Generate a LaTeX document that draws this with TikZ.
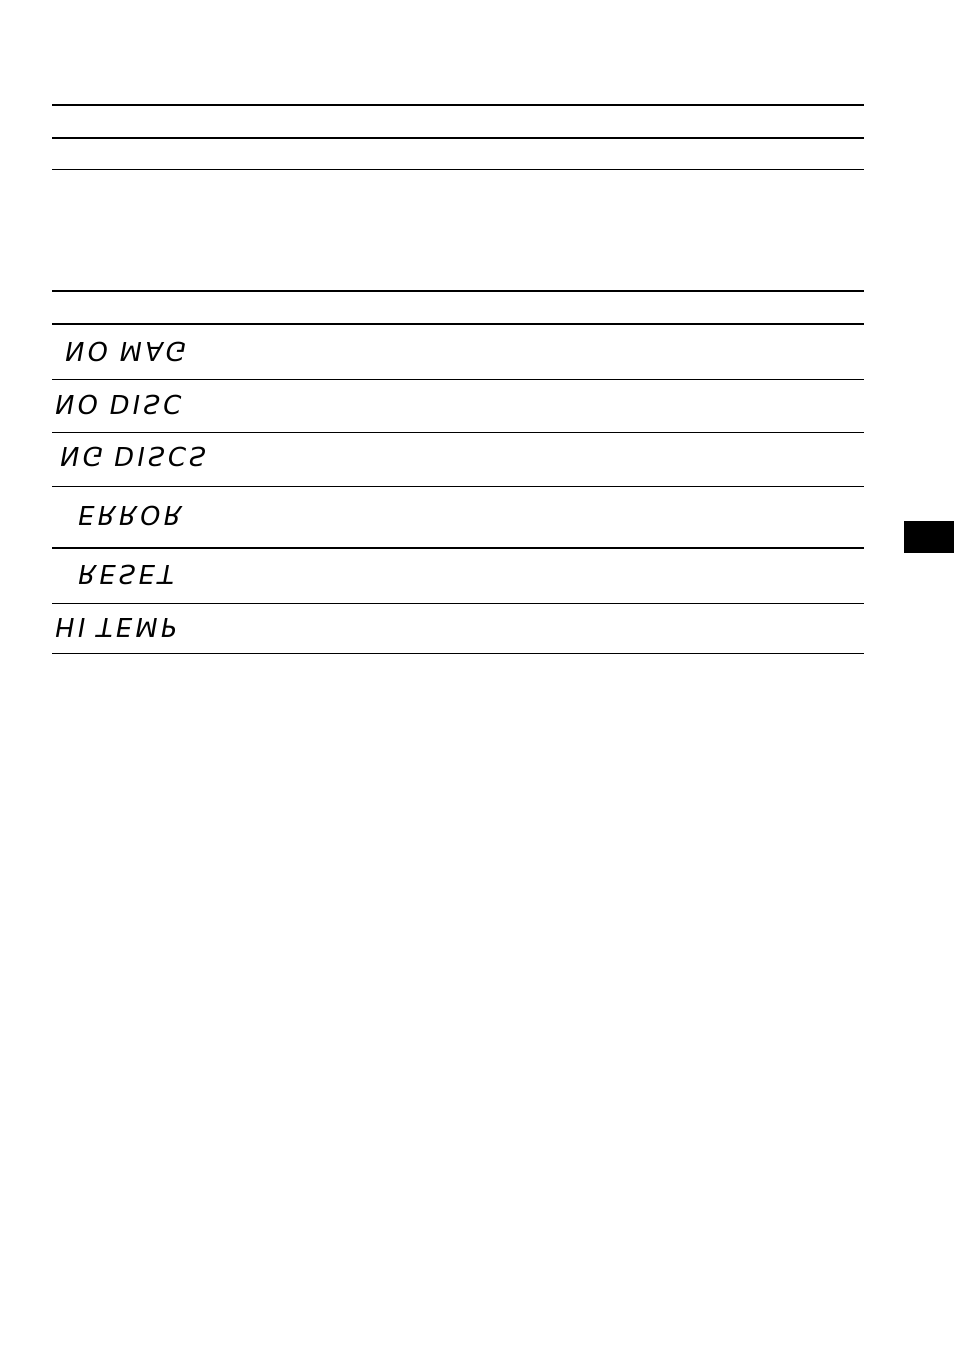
\documentclass[tikz,border=0pt]{standalone}
\usepackage{fontspec}
\newfontfamily\lcd[LetterSpace=12]{DejaVu Sans}
\begin{document}
\begin{tikzpicture}[x=1pt,y=-1pt,
  rule/.style={line width=#1},
  lcdtext/.style={anchor=west,inner sep=0pt,font=\lcd\fontsize{26}{26}\selectfont,xslant=0.18,transform shape,yscale=-1}]
\useasboundingbox (0,0) rectangle (954,1355);
\fill[white] (0,0) rectangle (954,1355);
\coordinate (L) at (52,0);
\foreach \y/\w in {105/2.5pt,138/2pt,169/0.8pt,291/1.2pt,324/1.5pt,379/0.8pt,432/0.8pt,486/0.8pt,548/1.5pt,603/0.8pt,653/0.8pt}
  \draw[rule=\w] (52,\y) -- (864,\y);
\fill[black] (904,521) rectangle (954,553);
\node[lcdtext] (t1) at (65,352) {NO MAG};
\node[lcdtext] (t2) at (55,405) {NO DISC};
\node[lcdtext] (t3) at (60,457) {NG DISCS};
\node[lcdtext] (t4) at (78,516) {ERROR};
\node[lcdtext] (t5) at (78,575) {RESET};
\node[lcdtext] (t6) at (55,628) {HI TEMP};
\end{tikzpicture}
\end{document}
